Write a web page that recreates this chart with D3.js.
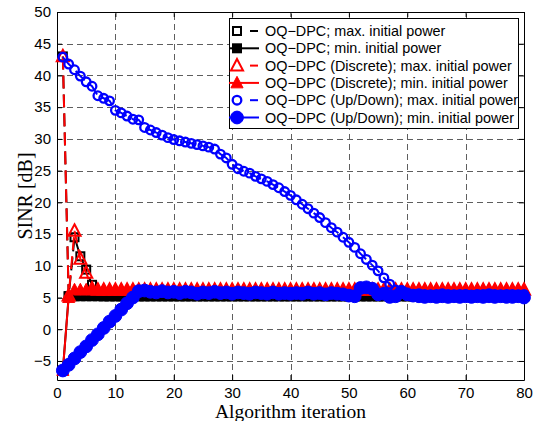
<!DOCTYPE html>
<html>
<head>
<meta charset="utf-8">
<script src="https://cdn.jsdelivr.net/npm/d3@7"></script>
<style>
  body { margin: 0; background: #fff; }
  svg { display: block; }
</style>
</head>
<body>
<div id="plot"></div>
<script>
// iteration index 1..80
const iterations = d3.range(1, 81);

// OQ-DPC; max. initial power
const oqMax = [43.0, 5.2, 14.5, 11.5, 9.4, 7.0, 5.6, 5.2, 5.2, 5.2,
  5.2, 5.2, 5.2, 5.2, 5.2, 5.2, 5.2, 5.2, 5.2, 5.2,
  5.2, 5.2, 5.2, 5.2, 5.2, 5.2, 5.2, 5.2, 5.2, 5.2,
  5.2, 5.2, 5.2, 5.2, 5.2, 5.2, 5.2, 5.2, 5.2, 5.2,
  5.2, 5.2, 5.2, 5.2, 5.2, 5.2, 5.2, 5.2, 5.2, 5.2,
  5.2, 5.2, 5.2, 5.2, 5.2, 5.2, 5.2, 5.2, 5.2, 5.2,
  5.2, 5.2, 5.2, 5.2, 5.2, 5.2, 5.2, 5.2, 5.2, 5.2,
  5.2, 5.2, 5.2, 5.2, 5.2, 5.2, 5.2, 5.2, 5.2, 5.2];

// OQ-DPC; min. initial power
const oqMin = [-6.5, 5.2, 5.2, 5.2, 5.2, 5.2, 5.2, 5.2, 5.2, 5.2,
  5.2, 5.2, 5.2, 5.2, 5.2, 5.2, 5.2, 5.2, 5.2, 5.2,
  5.2, 5.2, 5.2, 5.2, 5.2, 5.2, 5.2, 5.2, 5.2, 5.2,
  5.2, 5.2, 5.2, 5.2, 5.2, 5.2, 5.2, 5.2, 5.2, 5.2,
  5.2, 5.2, 5.2, 5.2, 5.2, 5.2, 5.2, 5.2, 5.2, 5.2,
  5.2, 5.2, 5.2, 5.2, 5.2, 5.2, 5.2, 5.2, 5.2, 5.2,
  5.2, 5.2, 5.2, 5.2, 5.2, 5.2, 5.2, 5.2, 5.2, 5.2,
  5.2, 5.2, 5.2, 5.2, 5.2, 5.2, 5.2, 5.2, 5.2, 5.2];

// OQ-DPC (Discrete); max. initial power
const discMax = [43.0, 5.3, 15.5, 11.1, 8.9, 6.4, 6.2, 6.2, 6.2, 6.2,
  6.2, 6.2, 6.2, 6.2, 6.2, 6.2, 6.2, 6.2, 6.2, 6.2,
  6.2, 6.2, 6.2, 6.2, 6.2, 6.2, 6.2, 6.2, 6.2, 6.2,
  6.2, 6.2, 6.2, 6.2, 6.2, 6.2, 6.2, 6.2, 6.2, 6.2,
  6.2, 6.2, 6.2, 6.2, 6.2, 6.2, 6.2, 6.2, 6.2, 6.2,
  6.2, 6.2, 6.2, 6.2, 6.2, 6.2, 6.2, 6.2, 6.2, 6.2,
  6.2, 6.2, 6.2, 6.2, 6.2, 6.2, 6.2, 6.2, 6.2, 6.2,
  6.2, 6.2, 6.2, 6.2, 6.2, 6.2, 6.2, 6.2, 6.2, 6.2];

// OQ-DPC (Discrete); min. initial power
const discMin = [-6.5, 5.0, 6.2, 6.2, 6.2, 6.2, 6.2, 6.2, 6.2, 6.2,
  6.2, 6.2, 6.2, 6.2, 6.2, 6.2, 6.2, 6.2, 6.2, 6.2,
  6.2, 6.2, 6.2, 6.2, 6.2, 6.2, 6.2, 6.2, 6.2, 6.2,
  6.2, 6.2, 6.2, 6.2, 6.2, 6.2, 6.2, 6.2, 6.2, 6.2,
  6.2, 6.2, 6.2, 6.2, 6.2, 6.2, 6.2, 6.2, 6.2, 6.2,
  6.2, 6.2, 6.2, 6.2, 6.2, 6.2, 6.2, 6.2, 6.2, 6.2,
  6.2, 6.2, 6.2, 6.2, 6.2, 6.2, 6.2, 6.2, 6.2, 6.2,
  6.2, 6.2, 6.2, 6.2, 6.2, 6.2, 6.2, 6.2, 6.2, 6.2];

// OQ-DPC (Up/Down); max. initial power
const udMax = [42.9, 41.8, 40.9, 39.9, 39.0, 38.3, 36.8, 36.4, 36.0, 34.5,
  34.1, 33.6, 33.1, 33.0, 31.8, 31.4, 31.0, 30.6, 30.2, 29.9,
  29.7, 29.5, 29.3, 29.1, 28.9, 28.7, 28.4, 27.6, 27.0, 26.0,
  25.3, 24.9, 24.6, 24.1, 23.7, 23.3, 22.8, 22.3, 21.7, 21.1,
  20.4, 19.7, 19.0, 18.3, 17.6, 16.8, 16.0, 15.3, 14.5, 13.7,
  12.9, 11.9, 11.0, 10.1, 9.2, 8.1, 7.1, 6.2, 5.7, 5.6,
  5.5, 5.6, 5.5, 5.4, 5.5, 5.6, 5.5, 5.4, 5.5, 5.5,
  5.4, 5.5, 5.5, 5.6, 5.5, 5.4, 5.5, 5.5, 5.4, 5.5];

// OQ-DPC (Up/Down); min. initial power
const udMin = [-6.5, -5.6, -4.6, -3.6, -2.7, -1.7, -0.8, 0.2, 1.2, 2.1,
  3.1, 4.1, 5.0, 6.0, 6.1, 5.9, 5.8, 6.0, 5.8, 5.9,
  5.7, 5.9, 5.8, 5.6, 5.8, 5.7, 5.9, 5.7, 5.8, 5.6,
  5.8, 5.7, 5.6, 5.8, 5.7, 5.6, 5.8, 5.6, 5.7, 5.6,
  5.7, 5.6, 5.8, 5.6, 5.7, 5.5, 5.7, 5.6, 5.5, 5.3,
  5.2, 6.5, 6.6, 6.4, 5.5, 5.6, 5.1, 5.2, 5.9, 5.5,
  5.3, 5.2, 5.1, 5.2, 5.1, 5.2, 5.1, 5.2, 5.1, 5.2,
  5.1, 5.2, 5.1, 5.2, 5.1, 5.2, 5.1, 5.1, 5.2, 5.0];

const xTicks = [0, 10, 20, 30, 40, 50, 60, 70, 80];
const yTicks = [-5, 0, 5, 10, 15, 20, 25, 30, 35, 40, 45, 50];

const seriesNames = [
  "OQ\u2212DPC; max. initial power",
  "OQ\u2212DPC; min. initial power",
  "OQ\u2212DPC (Discrete); max. initial power",
  "OQ\u2212DPC (Discrete); min. initial power",
  "OQ\u2212DPC (Up/Down); max. initial power",
  "OQ\u2212DPC (Up/Down); min. initial power"
];

const width = 538, height = 421;
const margin = { left: 57, right: 14, top: 12, bottom: 41 };

const svg = d3.select("#plot").append("svg")
  .attr("width", width)
  .attr("height", height);

const x = d3.scaleLinear().domain([0, 80]).range([margin.left, width - margin.right]);
const y = d3.scaleLinear().domain([-8, 50]).range([height - margin.bottom, margin.top]);

const x0 = x.range()[0], x1 = x.range()[1];
const yb = y.range()[0], yt = y.range()[1];

// grid
const grid = svg.append("g").attr("stroke", "#444").attr("stroke-width", 1)
  .attr("stroke-dasharray", "6,4").attr("opacity", 0.85);
xTicks.filter(t => t > 0 && t < 80).forEach(t => {
  grid.append("line").attr("x1", Math.round(x(t)) + 0.5).attr("x2", Math.round(x(t)) + 0.5)
    .attr("y1", yb).attr("y2", yt);
});
yTicks.filter(t => t < 50).forEach(t => {
  grid.append("line").attr("y1", Math.round(y(t)) + 0.5).attr("y2", Math.round(y(t)) + 0.5)
    .attr("x1", x0).attr("x2", x1);
});

// axes with inward ticks on all four sides
const fmt = d => d3.format("d")(d);
svg.append("g").attr("transform", `translate(0,${yb})`)
  .call(d3.axisBottom(x).tickValues(xTicks).tickSizeInner(-5).tickSizeOuter(0).tickPadding(7).tickFormat(fmt));
svg.append("g").attr("transform", `translate(0,${yt})`)
  .call(d3.axisTop(x).tickValues(xTicks).tickSizeInner(-5).tickSizeOuter(0).tickFormat(""));
svg.append("g").attr("transform", `translate(${x0},0)`)
  .call(d3.axisLeft(y).tickValues(yTicks).tickSizeInner(-5).tickSizeOuter(0).tickPadding(6).tickFormat(fmt));
svg.append("g").attr("transform", `translate(${x1},0)`)
  .call(d3.axisRight(y).tickValues(yTicks).tickSizeInner(-5).tickSizeOuter(0).tickFormat(""));

svg.selectAll(".tick text")
  .attr("font-family", "'Liberation Sans', Arial, sans-serif")
  .attr("font-size", 15)
  .attr("fill", "#000");
svg.selectAll(".domain").attr("stroke", "#000").attr("stroke-width", 1);
svg.selectAll(".tick line").attr("stroke", "#000");

// series
const line = d3.line().x((d, i) => x(iterations[i])).y(d => y(d));

function trianglePath(cx, cy, s) {
  return `M${cx},${cy - s * 0.6}L${cx + s * 0.55},${cy + s * 0.45}L${cx - s * 0.55},${cy + s * 0.45}Z`;
}

function marker(g, kind, cx, cy, color, filled) {
  if (kind === "square") {
    g.append("rect").attr("x", cx - 4).attr("y", cy - 4).attr("width", 8).attr("height", 8)
      .attr("fill", filled ? color : "none").attr("stroke", color).attr("stroke-width", 2);
  } else if (kind === "triangle") {
    g.append("path").attr("d", trianglePath(cx, cy, 11))
      .attr("fill", filled ? color : "none").attr("stroke", color).attr("stroke-width", filled ? 1 : 2);
  } else {
    g.append("circle").attr("cx", cx).attr("cy", cy).attr("r", filled ? 6.4 : 4.3)
      .attr("fill", filled ? color : "none").attr("stroke", color).attr("stroke-width", filled ? 1 : 2.3);
  }
}

const series = [
  { data: oqMax, color: "#000", dash: "13,6", kind: "square", filled: false },
  { data: oqMin, color: "#000", dash: null, kind: "square", filled: true },
  { data: discMax, color: "#ff0000", dash: "13,6", kind: "triangle", filled: false },
  { data: discMin, color: "#ff0000", dash: null, kind: "triangle", filled: true },
  { data: udMax, color: "#0000ff", dash: "13,6", kind: "circle", filled: false },
  { data: udMin, color: "#0000ff", dash: null, kind: "circle", filled: true }
];

series.forEach(s => {
  const g = svg.append("g");
  g.append("path").datum(s.data).attr("d", line)
    .attr("fill", "none").attr("stroke", s.color).attr("stroke-width", 2)
    .attr("stroke-dasharray", s.dash);
  s.data.forEach((v, i) => marker(g, s.kind, x(iterations[i]), y(v), s.color, s.filled));
});

// legend
const lg = svg.append("g");
const lgLeft = 229, lgTop = 18, lgRight = 518, lgBottom = 128;
lg.append("rect").attr("x", lgLeft + 0.5).attr("y", lgTop + 0.5)
  .attr("width", lgRight - lgLeft).attr("height", lgBottom - lgTop)
  .attr("fill", "#fff").attr("stroke", "#000").attr("stroke-width", 1);

series.forEach((s, i) => {
  const cy = 31 + i * 17.3;
  const mx = 237;
  if (s.dash) {
    lg.append("line").attr("x1", 250).attr("x2", 258).attr("y1", cy).attr("y2", cy)
      .attr("stroke", s.color).attr("stroke-width", 2);
  } else {
    lg.append("line").attr("x1", lgLeft).attr("x2", 259).attr("y1", cy).attr("y2", cy)
      .attr("stroke", s.color).attr("stroke-width", 2);
  }
  marker(lg, s.kind, mx, cy, s.color, s.filled);
  lg.append("text").attr("x", 265).attr("y", cy + 5)
    .attr("font-family", "'Liberation Sans', Arial, sans-serif").attr("font-size", 14.4)
    .attr("fill", "#000").text(seriesNames[i]);
});

// axis titles
svg.append("text").attr("x", (x0 + x1) / 2).attr("y", 418)
  .attr("text-anchor", "middle")
  .attr("font-family", "'Liberation Serif', 'Times New Roman', serif").attr("font-size", 19.5)
  .text("Algorithm iteration");
svg.append("text").attr("transform", `translate(32,${(yb + yt) / 2}) rotate(-90)`)
  .attr("text-anchor", "middle")
  .attr("font-family", "'Liberation Serif', 'Times New Roman', serif").attr("font-size", 20)
  .text("SINR [dB]");
</script>
</body>
</html>
